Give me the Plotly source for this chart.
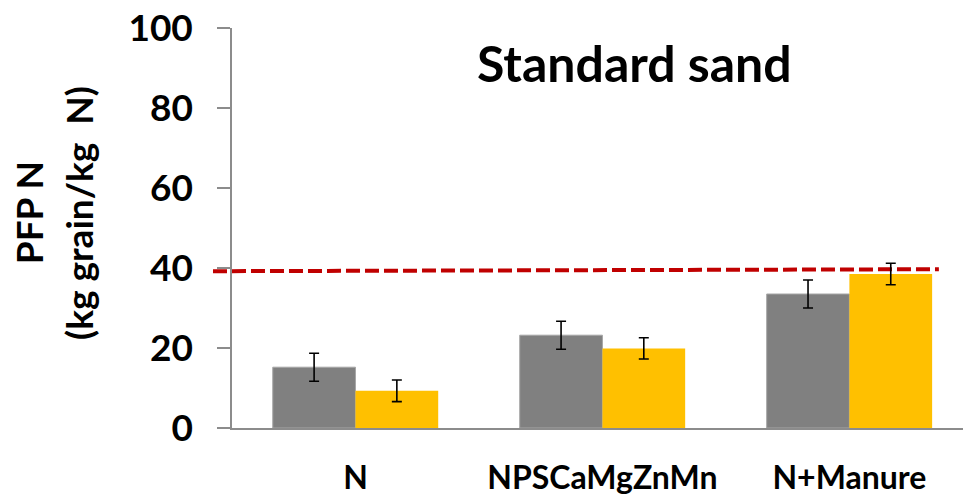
import plotly.graph_objects as go

# Treatments along the x axis
treatments = ["N", "NPSCaMgZnMn", "N+Manure"]

# Partial factor productivity of N (kg grain / kg N) for the two series
series_a = [15.2, 23.2, 33.5]
series_a_err = [3.5, 3.5, 3.5]
series_b = [9.3, 19.9, 38.5]
series_b_err = [2.7, 2.65, 2.7]

# Reference level shown as a dashed line (start and end value)
reference_start = 39.2
reference_end = 39.7

y_ticks = [0, 20, 40, 60, 80, 100]

FONT = "Lato"

fig = go.Figure()
fig.add_trace(go.Bar(
    x=treatments, y=series_a, name="A",
    marker=dict(color="#808080", line=dict(color="#a6a6a6", width=1)),
    error_y=dict(type="data", array=series_a_err, color="black", thickness=1.6, width=5),
))
fig.add_trace(go.Bar(
    x=treatments, y=series_b, name="B",
    marker=dict(color="#FFC000", line=dict(width=0)),
    error_y=dict(type="data", array=series_b_err, color="black", thickness=1.6, width=5),
))

fig.add_shape(
    type="line", xref="paper", yref="y",
    x0=-0.026, x1=0.967, y0=reference_start, y1=reference_end,
    line=dict(color="#C00000", width=4, dash="14px,5px"),
    layer="below",
)

fig.add_annotation(
    text="<b>Standard sand</b>", xref="paper", yref="paper",
    x=0.55, y=0.912, xanchor="center", yanchor="middle", showarrow=False,
    font=dict(family=FONT, size=50, color="black"),
)
fig.add_annotation(
    text="<b>PFP N</b>", xref="paper", yref="paper",
    x=-0.279, y=0.537, xanchor="center", yanchor="middle", showarrow=False,
    textangle=-90, font=dict(family=FONT, size=37, color="black"),
)
fig.add_annotation(
    text="<b>(kg grain/kg\u00a0 N)</b>", xref="paper", yref="paper",
    x=-0.211, y=0.537, xanchor="center", yanchor="middle", showarrow=False,
    textangle=-90, font=dict(family=FONT, size=37, color="black"),
)

fig.update_layout(
    width=963, height=496,
    margin=dict(l=232, r=0, t=28, b=64),
    plot_bgcolor="white", paper_bgcolor="white",
    barmode="group", bargap=0.33, bargroupgap=0,
    showlegend=False,
    xaxis=dict(
        range=[-0.5, 2.46], showline=True, linecolor="#8c8c8c", linewidth=1.5,
        ticks="", showgrid=False, ticklabelstandoff=21,
        tickfont=dict(family=FONT, size=32, color="black", weight="bold"),
    ),
    yaxis=dict(
        range=[0, 100], tickvals=y_ticks, showline=True, linecolor="#8c8c8c", linewidth=1.5,
        ticks="outside", ticklen=13, tickcolor="#8c8c8c", tickwidth=1.5,
        showgrid=False, zeroline=False, ticklabelstandoff=17,
        tickfont=dict(family=FONT, size=37, color="black", weight="bold"),
    ),
)

fig.write_html("out.html")
